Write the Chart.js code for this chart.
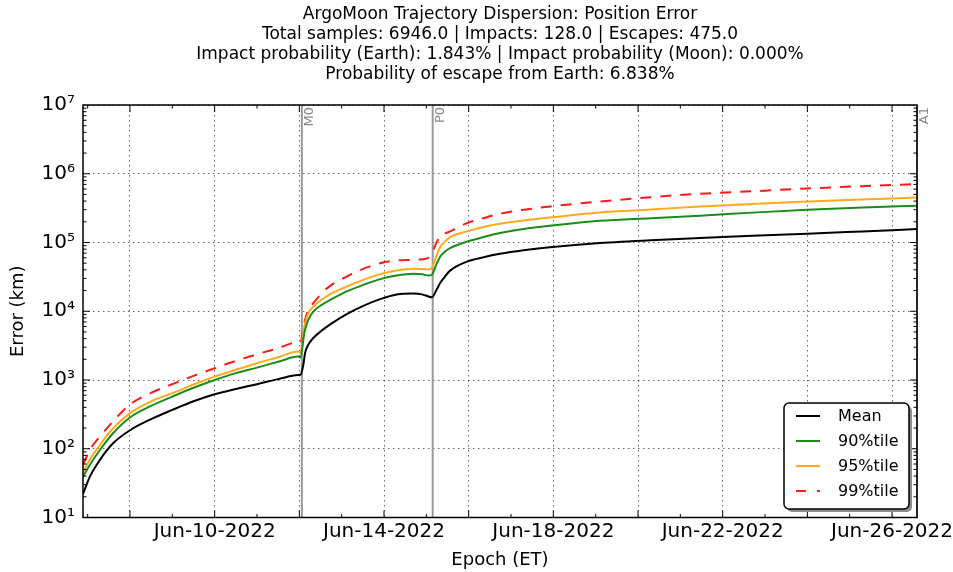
<!DOCTYPE html>
<html>
<head>
<meta charset="utf-8">
<script src="https://cdn.jsdelivr.net/npm/chart.js@4"></script>
<style>
  html, body { margin: 0; padding: 0; background: #fff; }
</style>
</head>
<body>
<canvas id="chart_error" width="953" height="572"></canvas>
<script>
// Values. x = day of June 2022 (10.0 = Jun-10 00:00)
const epochDays = [6.89, 7.05, 7.29, 7.60, 8.0, 8.5, 9.0, 9.5, 10.0, 10.5, 11.0, 11.5, 11.97, 12.03, 12.10,
  12.135, 12.21, 12.33, 12.53, 12.73, 13.12, 13.51, 13.91, 14.30, 14.69, 14.90, 15.05, 15.13, 15.25, 15.33,
  15.44, 15.56, 15.96, 16.35, 16.74, 17.3, 17.92, 19.1, 20.3, 21.47, 22.7, 24.0, 25.3, 26.59];

const meanErr = [22, 39, 69, 120, 186, 270, 367, 490, 621, 740, 870, 1030, 1180, 1200, 1740,
  2460, 3240, 4080, 5250, 6460, 9100, 12000, 15000, 17500, 18100, 17600, 16400, 16000, 21000, 26000,
  32000, 39000, 52800, 61000, 68400, 77000, 85000, 98000, 108000, 116000, 125000, 134000, 145000, 157000];

const p90Err = [39, 58, 96, 168, 285, 420, 573, 770, 1000, 1260, 1515, 1840, 2190, 2120, 4080,
  5370, 7500, 9900, 12400, 14600, 19400, 24200, 29300, 33000, 35000, 34500, 33000, 34000, 50000, 62500,
  74000, 83000, 103000, 120000, 137000, 157000, 175000, 207000, 226000, 245000, 272000, 299000, 322000, 342000];

const p95Err = [46, 69, 114, 199, 330, 490, 643, 860, 1120, 1410, 1757, 2140, 2590, 2520, 5070,
  6700, 9300, 11700, 14700, 17800, 22900, 28600, 34700, 39200, 41400, 41200, 40500, 43000, 66000, 87000,
  103000, 120000, 145000, 168000, 187000, 209000, 231000, 273000, 302000, 334000, 363000, 395000, 422000, 452000];

const p99Err = [58, 96, 150, 250, 440, 650, 870, 1150, 1480, 1900, 2370, 2900, 3550, 3500, 6000,
  7500, 10500, 13100, 18300, 23400, 32000, 41400, 50000, 54700, 56000, 57000, 60000, 70000, 103000, 122000,
  135000, 145000, 191000, 226000, 262000, 299000, 334000, 395000, 457000, 512000, 556000, 611000, 660000, 708000];

// event markers
const eventNames = ['M0', 'P0', 'A1'];
const eventDays = [12.06, 15.15, 26.59];

// axis ticks
const xGridDays = [8, 10, 12, 14, 16, 18, 20, 22, 24, 26];
const yTicks = [1e1, 1e2, 1e3, 1e4, 1e5, 1e6, 1e7];

const titleLines = [
  'ArgoMoon Trajectory Dispersion: Position Error',
  'Total samples: 6946.0 | Impacts: 128.0 | Escapes: 475.0',
  'Impact probability (Earth): 1.843% | Impact probability (Moon): 0.000%',
  'Probability of escape from Earth: 6.838%'
];

const toPoints = vals => vals.map((v, i) => ({ x: epochDays[i], y: v }));
const sup = { '1': '\u00b9', '2': '\u00b2', '3': '\u00b3', '4': '\u2074', '5': '\u2075', '6': '\u2076', '7': '\u2077' };

Chart.defaults.font.family = "'DejaVu Sans', sans-serif";
Chart.defaults.color = '#000';

// grey vertical lines for the events, with rotated names
const eventLines = {
  id: 'eventLines',
  beforeDatasetsDraw(chart) {
    const { ctx, chartArea: a, scales: { x } } = chart;
    ctx.save();
    ctx.strokeStyle = '#999';
    ctx.lineWidth = 2;
    eventDays.forEach((d, i) => {
      const px = x.getPixelForValue(d);
      ctx.beginPath();
      ctx.moveTo(px, a.top);
      ctx.lineTo(px, a.bottom);
      ctx.stroke();
      ctx.save();
      ctx.translate(px + 1.5, a.top + 2);
      ctx.rotate(-Math.PI / 2);
      ctx.fillStyle = '#8a8a8a';
      ctx.font = "13px 'DejaVu Sans'";
      ctx.textAlign = 'right';
      ctx.textBaseline = 'top';
      ctx.fillText(eventNames[i], 0, 0);
      ctx.restore();
    });
    ctx.restore();
  }
};

// inward ticks on all four sides and the black frame
const frameTicks = {
  id: 'frameTicks',
  afterDatasetsDraw(chart) {
    const { ctx, chartArea: a, scales: { x, y } } = chart;
    ctx.save();
    ctx.strokeStyle = '#000';
    ctx.lineWidth = 1;
    ctx.beginPath();
    for (let d = Math.ceil(x.min); d <= x.max; d++) {
      const px = x.getPixelForValue(d);
      const len = d % 2 === 0 ? 7 : 3.5;
      ctx.moveTo(px, a.bottom); ctx.lineTo(px, a.bottom - len);
      ctx.moveTo(px, a.top); ctx.lineTo(px, a.top + len);
    }
    for (let e = 1; e < 7; e++) {
      for (let m = 1; m < 10; m++) {
        const py = y.getPixelForValue(m * Math.pow(10, e));
        const len = m === 1 ? 7 : 3.5;
        ctx.moveTo(a.left, py); ctx.lineTo(a.left + len, py);
        ctx.moveTo(a.right, py); ctx.lineTo(a.right - len, py);
      }
    }
    ctx.stroke();
    ctx.lineWidth = 1.5;
    ctx.strokeRect(a.left, a.top, a.right - a.left, a.bottom - a.top);
    ctx.restore();
  }
};

// boxed legend in the lower right of the plot
const boxLegend = {
  id: 'boxLegend',
  afterDraw(chart) {
    const { ctx, chartArea: a } = chart;
    const w = 125, h = 106;
    const bx = a.right - 8 - w, by = a.bottom - 8.5 - h;
    ctx.save();
    ctx.fillStyle = '#8c8c8c';
    ctx.beginPath(); ctx.roundRect(bx + 3, by + 3, w, h, 5); ctx.fill();
    ctx.fillStyle = '#fff';
    ctx.strokeStyle = '#000';
    ctx.lineWidth = 1.5;
    ctx.beginPath(); ctx.roundRect(bx, by, w, h, 5); ctx.fill(); ctx.stroke();
    ctx.font = "16px 'DejaVu Sans'";
    ctx.textBaseline = 'middle';
    ctx.fillStyle = '#000';
    chart.data.datasets.forEach((ds, i) => {
      const ry = by + 13 + i * 25;
      ctx.strokeStyle = ds.borderColor;
      ctx.lineWidth = 2;
      ctx.setLineDash(ds.borderDash ? [10, 11] : []);
      ctx.beginPath(); ctx.moveTo(bx + 12, ry); ctx.lineTo(bx + 36, ry); ctx.stroke();
      ctx.setLineDash([]);
      ctx.fillText(ds.label, bx + 54, ry + 1);
    });
    ctx.restore();
  }
};

const gridStyle = {
  color: 'rgba(0,0,0,0.6)',
  lineWidth: 1,
  drawTicks: false
};

new Chart('chart_error', {
  type: 'line',
  data: {
    datasets: [
      { label: 'Mean', data: toPoints(meanErr), borderColor: '#000000', borderWidth: 2 },
      { label: '90%tile', data: toPoints(p90Err), borderColor: '#1a8c1a', borderWidth: 2 },
      { label: '95%tile', data: toPoints(p95Err), borderColor: '#ffaa1a', borderWidth: 2 },
      { label: '99%tile', data: toPoints(p99Err), borderColor: '#ff1a1a', borderWidth: 2, borderDash: [11, 9] }
    ]
  },
  options: {
    responsive: false,
    animation: false,
    events: [],
    layout: { padding: { left: 0, right: 36, top: 0, bottom: 0 } },
    elements: {
      point: { radius: 0 },
      line: { tension: 0.4, cubicInterpolationMode: 'monotone', fill: false }
    },
    plugins: {
      legend: { display: false },
      tooltip: { enabled: false },
      title: {
        display: true,
        fullSize: false,
        text: titleLines,
        color: '#000',
        font: { size: 17, weight: 'normal', lineHeight: '20px' },
        padding: { top: 5, bottom: 20 }
      }
    },
    scales: {
      x: {
        type: 'linear',
        min: epochDays[0],
        max: epochDays[epochDays.length - 1],
        grid: { ...gridStyle },
        border: { display: false, dash: [1.5, 3.5] },
        afterBuildTicks: s => { s.ticks = xGridDays.map(v => ({ value: v })); },
        afterFit: s => { s.height = 54.5; s.paddingLeft = 0; s.paddingRight = 0; },
        ticks: {
          autoSkip: false,
          maxRotation: 0,
          padding: 2,
          font: { size: 20 },
          callback: v => (v % 4 === 2 ? 'Jun-' + v + '-2022' : '')
        },
        title: {
          display: true,
          text: 'Epoch (ET)',
          font: { size: 18 },
          padding: { top: 0, bottom: 1 }
        }
      },
      y: {
        type: 'logarithmic',
        min: 10,
        max: 1e7,
        grid: { ...gridStyle },
        border: { display: false, dash: [1.5, 3.5] },
        afterBuildTicks: s => { s.ticks = yTicks.map(v => ({ value: v })); },
        afterFit: s => { s.width = 83; },
        ticks: {
          padding: 8,
          font: { size: 20 },
          callback: v => '10' + sup[String(Math.round(Math.log10(v)))]
        },
        title: {
          display: true,
          text: 'Error (km)',
          font: { size: 18 },
          padding: { top: 7.5, bottom: 0 }
        }
      }
    }
  },
  plugins: [eventLines, frameTicks, boxLegend]
});
</script>
</body>
</html>
